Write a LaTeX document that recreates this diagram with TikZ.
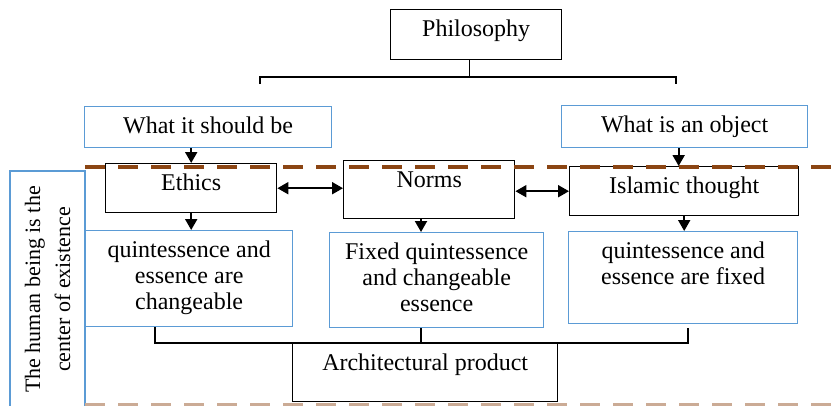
\documentclass[tikz,border=0pt]{standalone}
\usepackage{fontspec}
\setmainfont{Liberation Serif}
\usetikzlibrary{arrows.meta}
\definecolor{boxblue}{RGB}{91,155,213}
\definecolor{dashbrown}{RGB}{139,69,19}
\newcommand{\topbox}[3]{\parbox[c][#2][t]{#1}{\centering\vspace*{9pt}\strut #3}}
\tikzset{
  bluebox/.style={draw=boxblue, line width=1.3pt, inner sep=0pt, anchor=north west},
  blackbox/.style={draw=black, line width=1.4pt, inner sep=0pt, anchor=north west},
  arr/.style={line width=2pt, -{Triangle[length=11pt,width=12pt]}},
  dblarr/.style={line width=2pt, {Triangle[length=11pt,width=12pt]}-{Triangle[length=11pt,width=12pt]}},
  brace/.style={line width=1.4pt},
  dashrow/.style={dashbrown, line width=4pt, dash pattern=on 20pt off 13pt},
}

\begin{document}
\begin{tikzpicture}[x=1pt, y=-1pt, font=\fontsize{24}{26}\selectfont]
\useasboundingbox (0,0) rectangle (834,405);
% top
\node[blackbox] (phil) at (390,9) {\topbox{171pt}{50pt}{Philosophy}};
\coordinate (topl) at (260,77);
\coordinate (topr) at (676,77);
\draw[brace] ([yshift=-7pt]topl) -- (topl) -- (topr) -- ([yshift=-7pt]topr);
\draw[brace] ([xshift=-7pt]phil.south) -- ([xshift=-7pt]phil.south |- topl);
\node[bluebox] (should) at (84,106) {\topbox{247pt}{41pt}{What it should be}};
\node[bluebox] (object) at (561,105) {\topbox{246pt}{42pt}{What is an object}};
% middle row
\node[blackbox] (ethics) at (105,163) {\topbox{171pt}{49pt}{Ethics}};
\node[blackbox] (norms) at (343,160) {\topbox{171pt}{58pt}{Norms}};
\node[blackbox] (islamic) at (569,166) {\topbox{229pt}{49pt}{Islamic thought}};
% bottom row
\node[bluebox] (q1) at (85,230) {\topbox{207pt}{96pt}{quintessence and\\ essence are\\ changeable}};
\node[bluebox] (q2) at (329,232) {\topbox{214pt}{95pt}{Fixed quintessence\\ and changeable\\ essence}};
\node[bluebox] (q3) at (568,231) {\topbox{229pt}{92pt}{quintessence and\\ essence are fixed}};
\node[blackbox] (arch) at (292,343) {\topbox{265pt}{58pt}{Architectural product}};
\node[draw=boxblue, line width=1.3pt, rotate=90, minimum width=237pt, minimum height=75pt,
  align=center, font=\fontsize{22}{30}\selectfont] (human) at (47.5,289.5)
  {The human being is the\\ center of existence};
% dashed lines
\draw[dashrow] (85,167) -- (834,167);
\draw[dashrow, dashbrown!45] (85,405) -- (834,405);
% arrows
\draw[arr] (should.south -| ethics.north) -- (ethics.north);
\draw[arr] ([xshift=-6pt]object.south) -- ([xshift=-6pt]object.south |- islamic.north);
\draw[dblarr] (ethics.east) -- (ethics.east -| norms.west);
\draw[dblarr] (norms.east |- islamic.west) -- (islamic.west);
\coordinate (botl) at (155,343);
\coordinate (botm) at (421,343);
\coordinate (botr) at (688,343);
\draw[arr] (ethics.south) -- (ethics.south |- q1.north);
\draw[arr] (norms.south -| botm) -- (q2.north -| botm);
\draw[arr] (islamic.south) -- (islamic.south |- q3.north);
\draw[brace] (q1.south -| botl) -- (botl) -- (botr) -- ([yshift=-4pt]q3.south -| botr);
\draw[brace] (q2.south -| botm) -- (botm);
\end{tikzpicture}
\end{document}
